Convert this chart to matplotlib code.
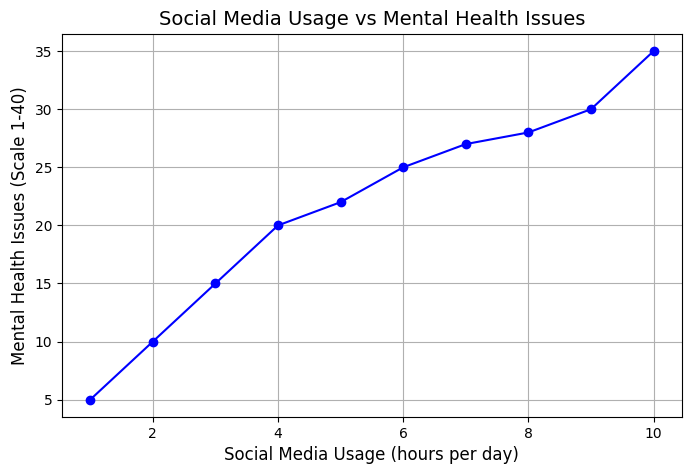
import matplotlib
matplotlib.use("Agg")
import matplotlib.pyplot as plt

hours = [1, 2, 3, 4, 5, 6, 7, 8, 9, 10]
issues = [5, 10, 15, 20, 22, 25, 27, 28, 30, 35]

fig, ax = plt.subplots(figsize=(6.9, 4.75), dpi=100)
fig.subplots_adjust(left=0.09, right=0.988, top=0.929, bottom=0.122)
ax.plot(hours, issues, marker='o', color='blue')
ax.set_title('Social Media Usage vs Mental Health Issues', fontsize=14)
ax.set_xlabel('Social Media Usage (hours per day)', fontsize=12)
ax.set_ylabel('Mental Health Issues (Scale 1-40)', fontsize=12)
ax.grid(True)
fig.savefig('out.png')
